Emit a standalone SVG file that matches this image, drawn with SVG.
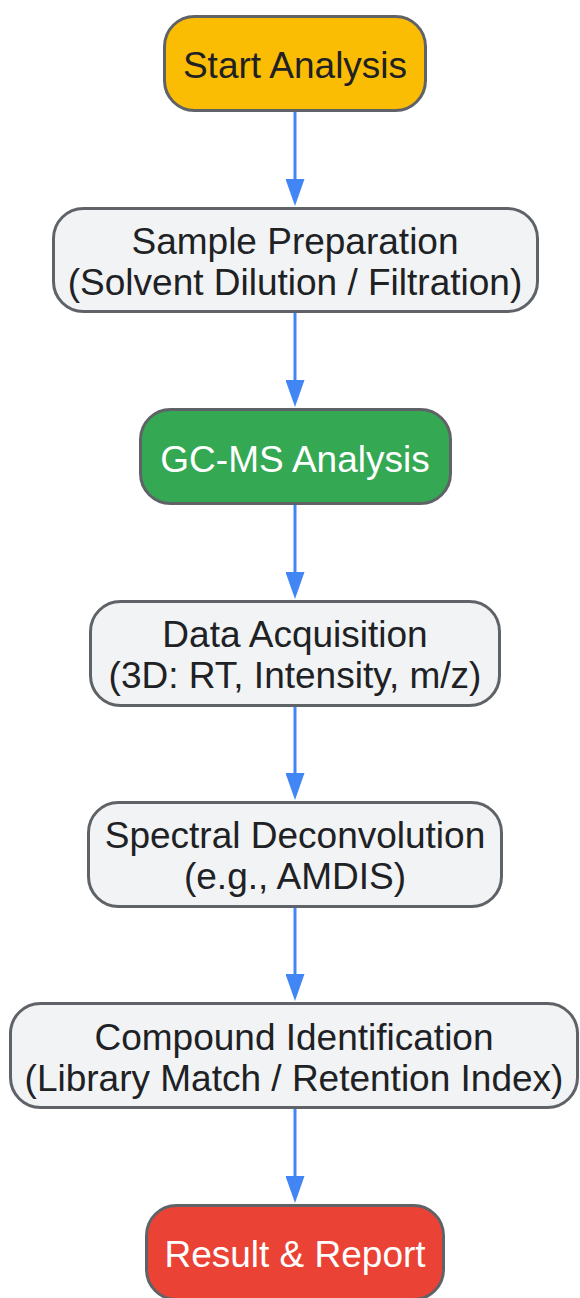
<svg xmlns="http://www.w3.org/2000/svg" width="580" height="1298" viewBox="0 0 580 1298">
<style>
.node rect{stroke:#5f6368;stroke-width:3}
.gray rect{fill:#f1f3f4}
.t{font-family:"Liberation Sans",Arial,sans-serif;font-size:37px;text-anchor:middle;fill:#202124}
.w{fill:#ffffff}
.edge{stroke:#4285f4;stroke-width:3;fill:none}
</style>
<defs>
<marker id="ah" viewBox="0 0 27 19" markerWidth="27" markerHeight="19" refX="17" refY="9.5" orient="auto" markerUnits="userSpaceOnUse">
<path d="M0,0 L27,9.5 L0,19 Z" fill="#4285f4"/>
</marker>
</defs>
<rect width="580" height="1298" fill="#ffffff"/>
<g id="connectors">
<path class="edge" d="M295,112 V196" marker-end="url(#ah)"/>
<path class="edge" d="M295,313 V397" marker-end="url(#ah)"/>
<path class="edge" d="M295,505 V589" marker-end="url(#ah)"/>
<path class="edge" d="M295,707 V790" marker-end="url(#ah)"/>
<path class="edge" d="M295,908 V991" marker-end="url(#ah)"/>
<path class="edge" d="M295,1109 V1193" marker-end="url(#ah)"/>
</g>
<g id="start" class="node">
<rect x="164.5" y="16.5" width="261" height="94" rx="30" fill="#fbbc04"/>
<text class="t" x="295" y="78">Start Analysis</text>
</g>
<g id="sample" class="node gray">
<rect x="53.5" y="208.5" width="484" height="103" rx="30"/>
<text class="t" x="295" y="254">Sample Preparation</text>
<text class="t" x="295" y="295">(Solvent Dilution / Filtration)</text>
</g>
<g id="gcms" class="node">
<rect x="140.5" y="409.5" width="310" height="94" rx="30" fill="#34a853"/>
<text class="t w" x="295" y="472">GC-MS Analysis</text>
</g>
<g id="data" class="node gray">
<rect x="90.5" y="601.5" width="409" height="104" rx="30"/>
<text class="t" x="295" y="647">Data Acquisition</text>
<text class="t" x="295" y="688">(3D: RT, Intensity, m/z)</text>
</g>
<g id="spectral" class="node gray">
<rect x="88.5" y="802.5" width="413" height="104" rx="30"/>
<text class="t" x="295" y="848">Spectral Deconvolution</text>
<text class="t" x="295" y="889">(e.g., AMDIS)</text>
</g>
<g id="compound" class="node gray">
<rect x="10.5" y="1003.5" width="567" height="104" rx="30"/>
<text class="t" x="294" y="1050">Compound Identification</text>
<text class="t" x="294" y="1091">(Library Match / Retention Index)</text>
</g>
<g id="result" class="node">
<rect x="146.5" y="1205.5" width="297" height="94" rx="30" fill="#ea4335"/>
<text class="t w" x="295" y="1267">Result &amp; Report</text>
</g>
</svg>
